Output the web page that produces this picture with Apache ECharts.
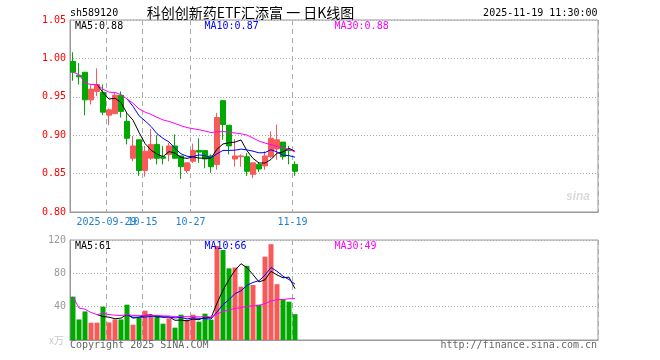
<!DOCTYPE html>
<html><head><meta charset="utf-8">
<script src="https://cdn.jsdelivr.net/npm/echarts@6/dist/echarts.min.js"></script>
<style>html,body{margin:0;padding:0;background:#fff}#c{width:660px;height:360px}</style>
</head><body><div id="c"></div>
<script>
// ---- data ----
const dates = ['09-19','09-22','09-23','09-24','09-25','09-26','09-29','09-30','10-09','10-10',
  '10-13','10-14','10-15','10-16','10-17','10-20','10-21','10-22','10-23','10-24',
  '10-27','10-28','10-29','10-30','10-31','11-03','11-04','11-05','11-06','11-07',
  '11-10','11-11','11-12','11-13','11-14','11-17','11-18','11-19'];
const opens  = [0.996,0.978,0.982,0.946,0.957,0.956,0.926,0.928,0.952,0.918,
  0.870,0.894,0.854,0.870,0.888,0.872,0.875,0.886,0.873,0.854,
  0.866,0.880,0.880,0.873,0.862,0.945,0.913,0.869,0.872,0.872,
  0.849,0.862,0.860,0.872,0.882,0.891,0.881,0.862];
const closes = [0.982,0.976,0.946,0.960,0.966,0.930,0.933,0.952,0.931,0.896,
  0.886,0.854,0.879,0.888,0.870,0.870,0.886,0.870,0.859,0.864,
  0.880,0.878,0.869,0.859,0.923,0.914,0.886,0.873,0.873,0.853,
  0.864,0.856,0.873,0.896,0.894,0.872,0.880,0.853];
const lows   = [0.971,0.966,0.926,0.940,0.951,0.926,0.913,0.928,0.923,0.888,
  0.866,0.847,0.846,0.868,0.862,0.862,0.866,0.869,0.843,0.851,
  0.864,0.864,0.857,0.851,0.855,0.894,0.875,0.859,0.859,0.847,
  0.844,0.852,0.855,0.870,0.868,0.868,0.862,0.847];
const highs  = [1.008,0.994,0.982,0.965,0.987,0.966,0.935,0.955,0.957,0.929,
  0.899,0.894,0.886,0.908,0.900,0.886,0.890,0.901,0.873,0.865,
  0.889,0.896,0.880,0.875,0.929,0.946,0.913,0.895,0.875,0.877,
  0.864,0.864,0.879,0.905,0.914,0.891,0.886,0.866];
const volumes = [52,24.7,34.3,20.8,20.8,40,21.1,24.7,24.7,42.4,
  18.4,26.4,35.2,29.6,28.4,19.6,26,14.8,30.4,24,
  30.4,22,31.6,24.4,112.8,108,86,87,64,89,
  66,42.4,100,115,67,49,46,31];
const tickDates = ['09-29','10-15','10-27','11-19'];
const tickTexts = ['2025-09-29','10-15','10-27','11-19'];
const priceLegend = ['MA5:0.88','MA10:0.87','MA30:0.88'];
const volLegend = ['MA5:61','MA10:66','MA30:49'];
const SLOTS = 88;

// ---- build ----
const RED = '#f85a5a', GREEN = '#00a800';
const MONO = 'DejaVu Sans Mono';
const cats = dates.slice();
for (let i = dates.length; i < SLOTS; i++) cats.push('pad' + i);
function ma(arr, n, cumulative) {
  return arr.map((v, i) => {
    if (i < n - 1 && !cumulative) return null;
    const s = Math.max(0, i - n + 1);
    let sum = 0;
    for (let k = s; k <= i; k++) sum += arr[k];
    return +(sum / (i - s + 1)).toFixed(4);
  });
}
const candle = dates.map((d, i) => [opens[i], closes[i], lows[i], highs[i]]);
const isUp = dates.map((d, i) => closes[i] >= opens[i]);
const tickMap = {};
tickDates.forEach((d, i) => tickMap[d] = tickTexts[i]);
// labels split over two axes so overlapping labels are both drawn
const labelSetA = tickDates.filter((d, i) => i !== 0);
const labelSetB = [tickDates[0]];

function xAxis(gi, labelSet, showLine, showSplit) {
  return {
    type: 'category', gridIndex: gi, data: cats, boundaryGap: true, position: 'bottom',
    axisLine: {show: showLine, lineStyle: {color: '#999', width: 1}},
    axisTick: {show: false},
    axisLabel: {
      show: labelSet.length > 0, interval: (i, v) => labelSet.indexOf(v) >= 0,
      formatter: v => labelSet.indexOf(v) >= 0 ? tickMap[v] : '', color: '#1f7fd0',
      fontFamily: MONO, fontSize: 10, margin: 5, hideOverlap: false,
      padding: [0, 5, 0, 0]
    },
    splitLine: {show: showSplit, interval: (i, v) => tickMap[v] !== undefined,
      lineStyle: {color: '#aaa', type: [5, 4], width: 1}}
  };
}
function maLine(data, color, xi, yi) {
  return {type: 'line', xAxisIndex: xi, yAxisIndex: yi, data: data, symbol: 'none',
    showSymbol: false, lineStyle: {color: color, width: 1}, itemStyle: {color: color},
    connectNulls: false, silent: true, z: 5};
}
function txt(x, y, s, color, align, size, family, extra) {
  return {type: 'text', x: x, y: y, silent: true, z: 20,
    style: Object.assign({text: s, fill: color, align: align || 'left', verticalAlign: 'middle',
      font: (size || 10) + 'px "' + (family || MONO) + '"'}, extra || {})};
}

const chart = echarts.init(document.getElementById('c'), null, {renderer: 'canvas'});
chart.setOption({
  animation: false,
  backgroundColor: '#fff',
  grid: [
    {left: 70, top: 20, width: 528, height: 192, show: true, borderColor: '#999', borderWidth: 1, outerBoundsMode: 'none', containLabel: false},
    {left: 70, top: 240, width: 528, height: 100, show: true, borderColor: '#999', borderWidth: 1, outerBoundsMode: 'none', containLabel: false}
  ],
  xAxis: [xAxis(0, labelSetA, true, true), xAxis(1, [], true, true), xAxis(0, labelSetB, false, false)],
  yAxis: [
    {type: 'value', gridIndex: 0, min: 0.8, max: 1.05, interval: 0.05, scale: true,
      axisLine: {show: true, lineStyle: {color: '#999'}}, axisTick: {show: false},
      axisLabel: {formatter: v => v.toFixed(2), color: '#ff0000', fontFamily: MONO, fontSize: 10, margin: 4},
      splitLine: {show: true, lineStyle: {color: '#aaa', type: [1, 2], width: 1}}},
    {type: 'value', gridIndex: 1, min: 0, max: 120, interval: 40,
      axisLine: {show: true, lineStyle: {color: '#999'}}, axisTick: {show: false},
      axisLabel: {formatter: v => v === 0 ? '' : String(v), color: '#999', fontFamily: MONO, fontSize: 10, margin: 4},
      splitLine: {show: true, lineStyle: {color: '#aaa', type: [1, 2], width: 1}}}
  ],
  series: [
    {type: 'candlestick', xAxisIndex: 0, yAxisIndex: 0, data: candle, barWidth: 5,
      itemStyle: {color: RED, color0: GREEN, borderColor: RED, borderColor0: GREEN, borderWidth: 1}},
    maLine(ma(closes, 5), '#000000', 0, 0),
    maLine(ma(closes, 10), '#0000ff', 0, 0),
    maLine(ma(closes, 30, true), '#ff00ff', 0, 0),
    {type: 'bar', xAxisIndex: 1, yAxisIndex: 1, barWidth: 5,
      data: volumes.map((v, i) => ({value: v, itemStyle: {color: isUp[i] ? RED : GREEN}}))},
    maLine(ma(volumes, 5), '#000000', 1, 1),
    maLine(ma(volumes, 10), '#0000ff', 1, 1),
    maLine(ma(volumes, 30, true), '#ff00ff', 1, 1)
  ],
  graphic: [
    txt(70, 13, 'sh589120', '#000'),
    txt(250.5, 12.5, '科创创新药ETF汇添富 一 日K线图', '#000', 'center', 14, 'Noto Sans CJK SC'),
    txt(597.5, 13, '2025-11-19 11:30:00', '#000', 'right'),
    txt(75, 26, priceLegend[0], '#000'),
    txt(204.5, 26, priceLegend[1], '#0000ff'),
    txt(334.5, 26, priceLegend[2], '#ff00ff'),
    txt(75, 246.5, volLegend[0], '#000'),
    txt(204.5, 246.5, volLegend[1], '#0000ff'),
    txt(334.5, 246.5, volLegend[2], '#ff00ff'),
    txt(49, 340, 'x万', '#c8c8c8', 'left', 10, 'Noto Sans CJK SC'),
    txt(70, 345.5, 'Copyright 2025 SINA.COM', '#666'),
    txt(597, 345.5, 'http://finance.sina.com.cn', '#666', 'right'),
    txt(566, 197, 'sina', '#dcdcdc', 'left', 16, 'DejaVu Sans', {fontStyle: 'italic', fontWeight: 'bold'})
  ]
});
</script></body></html>
